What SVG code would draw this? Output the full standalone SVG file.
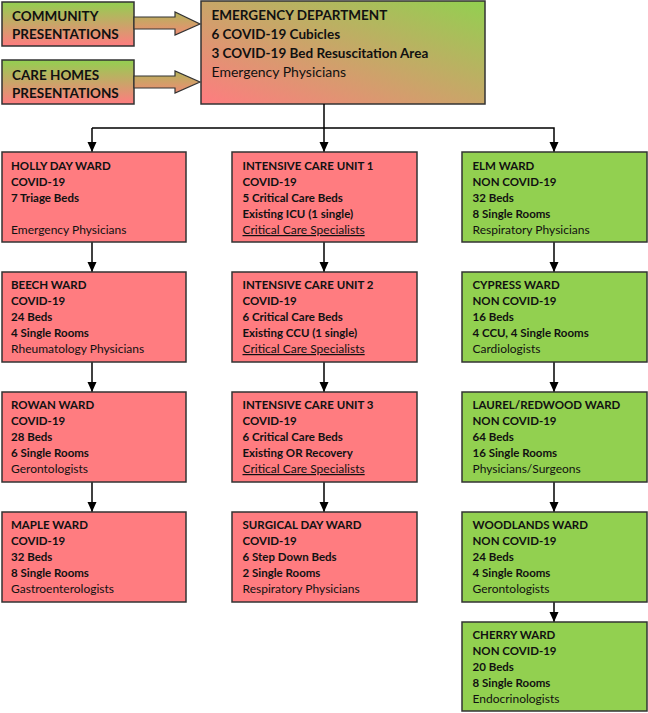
<svg xmlns="http://www.w3.org/2000/svg" width="648" height="713" viewBox="0 0 648 713">
<defs>
<linearGradient id="gV" x1="0" y1="0" x2="0" y2="1">
<stop offset="0" stop-color="#92d050"/>
<stop offset="1" stop-color="#ff7c80"/>
</linearGradient>
<linearGradient id="gD" x1="1" y1="0" x2="0" y2="1">
<stop offset="0" stop-color="#92d050"/>
<stop offset="1" stop-color="#ff7c80"/>
</linearGradient>
<linearGradient id="gA" x1="0" y1="0" x2="0" y2="1">
<stop offset="0" stop-color="#b3b45b"/>
<stop offset="1" stop-color="#ee8c74"/>
</linearGradient>
<marker id="ah" markerUnits="userSpaceOnUse" markerWidth="10" markerHeight="10" viewBox="0 0 10 10" refX="10" refY="5" orient="auto">
<path d="M0,0.5 L10,5 L0,9.5 Z" fill="#000"/>
</marker>
<style>
.red{fill:#ff7c80;stroke:#333;stroke-width:1.5}
.grn{fill:#92d050;stroke:#333;stroke-width:1.5}
.t{font-family:Lato,"Liberation Sans",sans-serif;font-size:12px;fill:#111}
.b{font-weight:bold;font-size:11.5px}
.big{font-family:Lato,"Liberation Sans",sans-serif;font-size:14px;fill:#111}
.bb{font-weight:bold;font-size:13.5px}
.u{text-decoration:underline}
.c{fill:none;stroke:#000;stroke-width:1.5}
.arr{fill:url(#gA);stroke:#333;stroke-width:1.2}
</style>
</defs>

<g id="community">
<rect x="2" y="2" width="132" height="44" fill="url(#gV)" stroke="#333" stroke-width="1.5"/>
<text class="big bb" x="12" y="21">COMMUNITY</text>
<text class="big bb" x="12" y="39">PRESENTATIONS</text>
</g>
<g id="carehomes">
<rect x="2" y="60" width="132" height="44" fill="url(#gV)" stroke="#333" stroke-width="1.5"/>
<text class="big bb" x="12" y="80">CARE HOMES</text>
<text class="big bb" x="12" y="98">PRESENTATIONS</text>
</g>
<g id="ed">
<rect x="201" y="1" width="284" height="103" fill="url(#gD)" stroke="#333" stroke-width="1.5"/>
<text class="big bb" x="211.5" y="20">EMERGENCY DEPARTMENT</text>
<text class="big bb" x="211.5" y="39">6 COVID-19 Cubicles</text>
<text class="big bb" x="211.5" y="58">3 COVID-19 Bed Resuscitation Area</text>
<text class="big" x="211.5" y="77">Emergency Physicians</text>
</g>

<g id="connectors">
<path class="arr" d="M134,17 L175,17 L175,12 L200,24 L175,35 L175,29 L134,29 Z"/>
<path class="arr" d="M134,76 L175,76 L175,71 L200,82 L175,93 L175,88 L134,88 Z"/>
<path class="c" d="M324,104 L324,152" marker-end="url(#ah)"/>
<path class="c" d="M92,128 L554,128 L554,152" marker-end="url(#ah)"/>
<path class="c" d="M92,128 L92,152" marker-end="url(#ah)"/>
<path class="c" d="M92,242 L92,272" marker-end="url(#ah)"/>
<path class="c" d="M92,362 L92,392" marker-end="url(#ah)"/>
<path class="c" d="M92,482 L92,512" marker-end="url(#ah)"/>
<path class="c" d="M324,242 L324,272" marker-end="url(#ah)"/>
<path class="c" d="M324,362 L324,392" marker-end="url(#ah)"/>
<path class="c" d="M324,482 L324,512" marker-end="url(#ah)"/>
<path class="c" d="M554,242 L554,272" marker-end="url(#ah)"/>
<path class="c" d="M554,362 L554,392" marker-end="url(#ah)"/>
<path class="c" d="M554,482 L554,512" marker-end="url(#ah)"/>
<path class="c" d="M554,602 L554,622" marker-end="url(#ah)"/>
</g>

<g id="holly">
<rect class="red" x="2" y="152" width="184" height="90"/>
<text class="t b" x="11" y="170">HOLLY DAY WARD</text>
<text class="t b" x="11" y="186">COVID-19</text>
<text class="t b" x="11" y="202">7 Triage Beds</text>
<text class="t" x="11" y="234">Emergency Physicians</text>
</g>
<g id="beech">
<rect class="red" x="2" y="272" width="184" height="90"/>
<text class="t b" x="11" y="289">BEECH WARD</text>
<text class="t b" x="11" y="305">COVID-19</text>
<text class="t b" x="11" y="321">24 Beds</text>
<text class="t b" x="11" y="337">4 Single Rooms</text>
<text class="t" x="11" y="353">Rheumatology Physicians</text>
</g>
<g id="rowan">
<rect class="red" x="2" y="392" width="184" height="90"/>
<text class="t b" x="11" y="409">ROWAN WARD</text>
<text class="t b" x="11" y="425">COVID-19</text>
<text class="t b" x="11" y="441">28 Beds</text>
<text class="t b" x="11" y="457">6 Single Rooms</text>
<text class="t" x="11" y="473">Gerontologists</text>
</g>
<g id="maple">
<rect class="red" x="2" y="512" width="184" height="90"/>
<text class="t b" x="11" y="529">MAPLE WARD</text>
<text class="t b" x="11" y="545">COVID-19</text>
<text class="t b" x="11" y="561">32 Beds</text>
<text class="t b" x="11" y="577">8 Single Rooms</text>
<text class="t" x="11" y="593">Gastroenterologists</text>
</g>

<g id="icu1">
<rect class="red" x="232" y="152" width="185" height="90"/>
<text class="t b" x="242.5" y="170">INTENSIVE CARE UNIT 1</text>
<text class="t b" x="242.5" y="186">COVID-19</text>
<text class="t b" x="242.5" y="202">5 Critical Care Beds</text>
<text class="t b" x="242.5" y="218">Existing ICU (1 single)</text>
<text class="t u" x="242.5" y="234">Critical Care Specialists</text>
</g>
<g id="icu2">
<rect class="red" x="232" y="272" width="185" height="90"/>
<text class="t b" x="242.5" y="289">INTENSIVE CARE UNIT 2</text>
<text class="t b" x="242.5" y="305">COVID-19</text>
<text class="t b" x="242.5" y="321">6 Critical Care Beds</text>
<text class="t b" x="242.5" y="337">Existing CCU (1 single)</text>
<text class="t u" x="242.5" y="353">Critical Care Specialists</text>
</g>
<g id="icu3">
<rect class="red" x="232" y="392" width="185" height="90"/>
<text class="t b" x="242.5" y="409">INTENSIVE CARE UNIT 3</text>
<text class="t b" x="242.5" y="425">COVID-19</text>
<text class="t b" x="242.5" y="441">6 Critical Care Beds</text>
<text class="t b" x="242.5" y="457">Existing OR Recovery</text>
<text class="t u" x="242.5" y="473">Critical Care Specialists</text>
</g>
<g id="surgical">
<rect class="red" x="232" y="512" width="185" height="90"/>
<text class="t b" x="242.5" y="529">SURGICAL DAY WARD</text>
<text class="t b" x="242.5" y="545">COVID-19</text>
<text class="t b" x="242.5" y="561">6 Step Down Beds</text>
<text class="t b" x="242.5" y="577">2 Single Rooms</text>
<text class="t" x="242.5" y="593">Respiratory Physicians</text>
</g>

<g id="elm">
<rect class="grn" x="462" y="152" width="185" height="90"/>
<text class="t b" x="472.5" y="170">ELM WARD</text>
<text class="t b" x="472.5" y="186">NON COVID-19</text>
<text class="t b" x="472.5" y="202">32 Beds</text>
<text class="t b" x="472.5" y="218">8 Single Rooms</text>
<text class="t" x="472.5" y="234">Respiratory Physicians</text>
</g>
<g id="cypress">
<rect class="grn" x="462" y="272" width="185" height="90"/>
<text class="t b" x="472.5" y="289">CYPRESS WARD</text>
<text class="t b" x="472.5" y="305">NON COVID-19</text>
<text class="t b" x="472.5" y="321">16 Beds</text>
<text class="t b" x="472.5" y="337">4 CCU, 4 Single Rooms</text>
<text class="t" x="472.5" y="353">Cardiologists</text>
</g>
<g id="laurel">
<rect class="grn" x="462" y="392" width="185" height="90"/>
<text class="t b" x="472.5" y="409">LAUREL/REDWOOD WARD</text>
<text class="t b" x="472.5" y="425">NON COVID-19</text>
<text class="t b" x="472.5" y="441">64 Beds</text>
<text class="t b" x="472.5" y="457">16 Single Rooms</text>
<text class="t" x="472.5" y="473">Physicians/Surgeons</text>
</g>
<g id="woodlands">
<rect class="grn" x="462" y="512" width="185" height="90"/>
<text class="t b" x="472.5" y="529">WOODLANDS WARD</text>
<text class="t b" x="472.5" y="545">NON COVID-19</text>
<text class="t b" x="472.5" y="561">24 Beds</text>
<text class="t b" x="472.5" y="577">4 Single Rooms</text>
<text class="t" x="472.5" y="593">Gerontologists</text>
</g>
<g id="cherry">
<rect class="grn" x="462" y="622" width="185" height="89"/>
<text class="t b" x="472.5" y="639">CHERRY WARD</text>
<text class="t b" x="472.5" y="655">NON COVID-19</text>
<text class="t b" x="472.5" y="671">20 Beds</text>
<text class="t b" x="472.5" y="687">8 Single Rooms</text>
<text class="t" x="472.5" y="703">Endocrinologists</text>
</g>
</svg>
